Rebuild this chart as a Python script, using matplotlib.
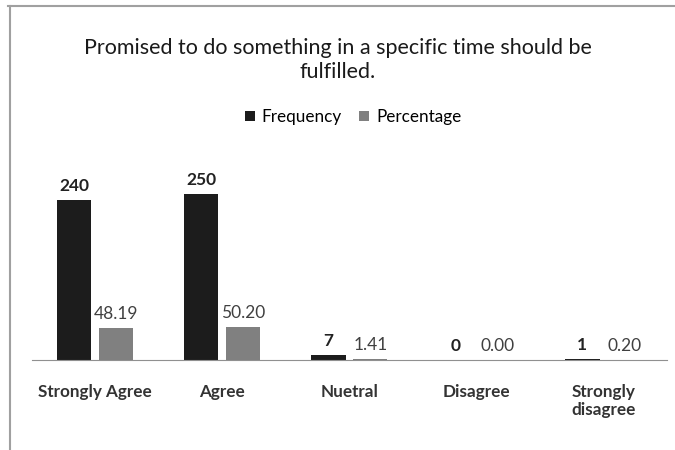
import numpy as np
import matplotlib.pyplot as plt
from matplotlib.lines import Line2D

plt.rcParams['font.family'] = ['Lato', 'DejaVu Sans']

categories = ['Strongly Agree', 'Agree', 'Nuetral', 'Disagree', 'Strongly\ndisagree']
frequency = [240, 250, 7, 0, 1]
percentage = [48.19, 50.20, 1.41, 0.00, 0.20]

fig = plt.figure(figsize=(6.75, 4.5), dpi=100)
ax = fig.add_axes([0.047, 0.2, 0.941, 0.444])

x = np.arange(len(categories))
w = 0.27
off = 0.165
b1 = ax.bar(x - off, frequency, w, color='#1c1c1c', label='Frequency')
b2 = ax.bar(x + off, percentage, w, color='#808080', label='Percentage')

for xi, v in zip(x, frequency):
    ax.text(xi - off, v + 9, f'{v}', ha='center', va='bottom', fontsize=12.5,
            fontweight='bold', color='#222222', clip_on=False)
for xi, v in zip(x, percentage):
    ax.text(xi + off, v + 9, f'{v:.2f}', ha='center', va='bottom', fontsize=12.5,
            color='#404040', clip_on=False)

ax.set_xlim(-0.5, len(categories) - 0.5)
ax.set_ylim(0, 300)
ax.set_xticks(x)
ax.set_xticklabels(categories, fontsize=12.3, fontweight='bold', color='#333333',
                   linespacing=1.15)
ax.tick_params(axis='x', length=0, pad=17)
ax.set_yticks([])
for s in ['top', 'right', 'left']:
    ax.spines[s].set_visible(False)
ax.spines['bottom'].set_color('#909090')

fig.text(0.5, 0.867, 'Promised to do something in a specific time should be\nfulfilled.',
         ha='center', va='center', fontsize=15.5, color='#1a1a1a', linespacing=1.25)
fig.legend(handles=[b1, b2], loc='center', bbox_to_anchor=(0.523, 0.74), ncol=2,
           frameon=False, fontsize=12.3, handlelength=0.6, handleheight=0.6,
           columnspacing=1.0, handletextpad=0.4)

# chart frame edges
fig.add_artist(Line2D([0.012, 1.0], [0.987, 0.987], color='#a0a0a0', lw=1.5))
fig.add_artist(Line2D([0.015, 0.015], [0.0, 0.987], color='#a0a0a0', lw=1.5))

fig.savefig('out.png', dpi=100)
